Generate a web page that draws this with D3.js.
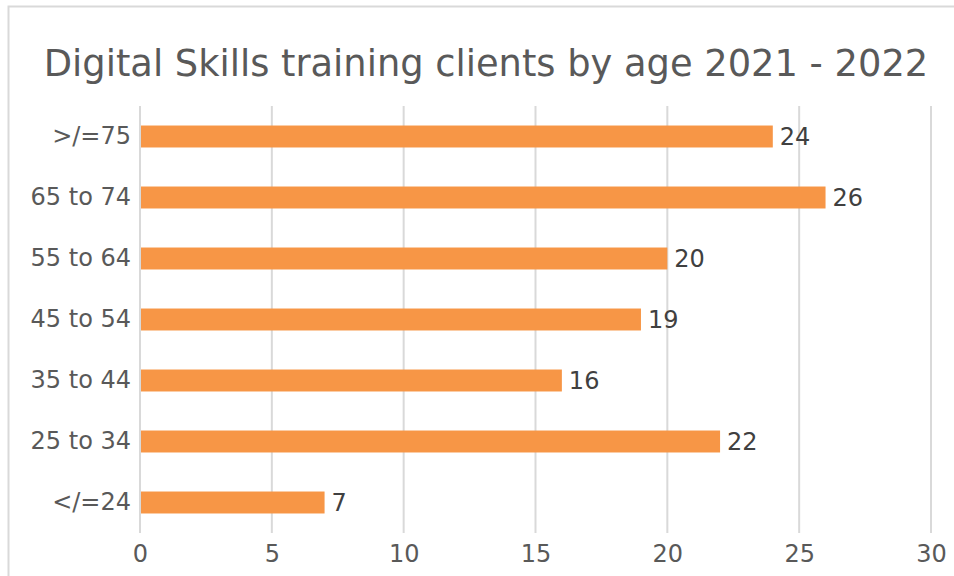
<!DOCTYPE html>
<html>
<head>
<meta charset="utf-8">
<script src="https://cdn.jsdelivr.net/npm/d3@7"></script>
<style>
  body { margin: 0; background: #fff; }
  svg { display: block; font-family: "DejaVu Sans", sans-serif; }
</style>
</head>
<body>
<svg width="954" height="576"></svg>
<script>
// age groups, top to bottom
var categories = [">/=75", "65 to 74", "55 to 64", "45 to 54", "35 to 44", "25 to 34", "</=24"];
var clients = [24, 26, 20, 19, 16, 22, 7];
var xTicks = [0, 5, 10, 15, 20, 25, 30];

var data = categories.map(function(c, i) { return {age: c, value: clients[i]}; });

var svg = d3.select("svg");

// chart frame (runs off the right and bottom edge)
svg.append("rect")
  .attr("x", 8.5).attr("y", 6.5)
  .attr("width", 980).attr("height", 600)
  .attr("fill", "#fff")
  .attr("stroke", "#d9d9d9")
  .attr("stroke-width", 2);

svg.append("text")
  .attr("x", 486).attr("y", 76)
  .attr("text-anchor", "middle")
  .style("font-size", "36.8px")
  .style("fill", "#595959")
  .text("Digital Skills training clients by age 2021 - 2022");

var xScale = d3.scaleLinear().domain([0, 30]).range([140, 931]);
var yScale = d3.scaleBand().domain(categories).range([106, 533]).paddingInner(0.64).paddingOuter(0.32);

// gridlines
svg.append("g").selectAll("line")
  .data(xTicks)
  .enter()
  .append("line")
  .attr("x1", function(d) { return xScale(d); })
  .attr("x2", function(d) { return xScale(d); })
  .attr("y1", 106).attr("y2", 533)
  .attr("stroke", "#d9d9d9")
  .attr("stroke-width", 2);

var xAxis = d3.axisBottom(xScale).tickValues(xTicks).tickSize(0).tickPadding(12);
var gx = svg.append("g").attr("transform", "translate(0,533)").call(xAxis)
  .attr("font-family", null).attr("font-size", null);
gx.select(".domain").remove();
gx.selectAll("text").style("font-size", "24px").style("fill", "#595959");

var yAxis = d3.axisLeft(yScale).tickSize(0).tickPadding(9);
var gy = svg.append("g").attr("transform", "translate(140,0)").call(yAxis)
  .attr("font-family", null).attr("font-size", null);
gy.select(".domain").remove();
gy.selectAll("text").style("font-size", "24px").style("fill", "#595959");

// bars
svg.selectAll("rect.bar")
  .data(data)
  .enter()
  .append("rect")
  .attr("class", "bar")
  .attr("x", xScale(0) + 1)
  .attr("y", function(d) { return yScale(d.age); })
  .attr("width", function(d) { return xScale(d.value) - xScale(0) - 1; })
  .attr("height", yScale.bandwidth())
  .attr("fill", "#f79646");

// value labels
svg.selectAll("text.val")
  .data(data)
  .enter()
  .append("text")
  .attr("class", "val")
  .attr("x", function(d) { return xScale(d.value) + 7; })
  .attr("y", function(d) { return yScale(d.age) + yScale.bandwidth() / 2; })
  .attr("dy", "0.35em")
  .style("font-size", "24px")
  .style("fill", "#404040")
  .text(function(d) { return d.value; });
</script>
</body>
</html>
